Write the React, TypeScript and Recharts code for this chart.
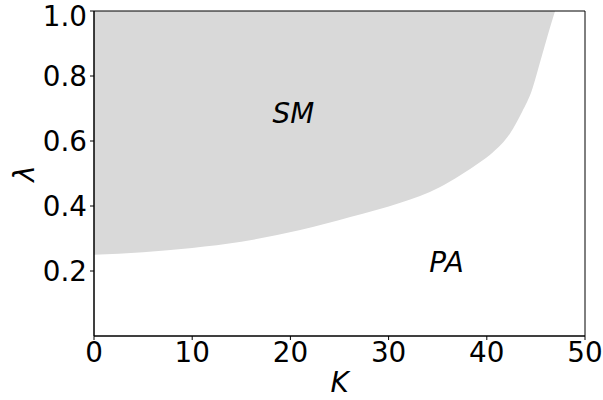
import {
    ComposedChart,
    Area,
    XAxis,
    YAxis,
    ReferenceDot,
    ReferenceArea,
} from "recharts";

// boundary between SM and PA phases
const kValues = [0, 5, 10, 15, 21, 26.1, 31.2, 33.2, 35.2, 37.3, 39.3, 40.6, 42.4, 43.6, 44.6, 45.4, 46.2, 46.95];
const lambdaValues = [0.25, 0.258, 0.271, 0.29, 0.326, 0.366, 0.41, 0.431, 0.458, 0.495, 0.535, 0.565, 0.625, 0.69, 0.757, 0.84, 0.925, 1.0];

const xTicks = [0, 10, 20, 30, 40, 50];
const yTicks = [0.2, 0.4, 0.6, 0.8, 1.0];

const regionLabels = [
    { name: "SM", k: 20.3, lambda: 0.686 },
    { name: "PA", k: 35.9, lambda: 0.225 },
];

const data = kValues.map((k, i) => ({
    k,
    band: [lambdaValues[i], 1],
}));

const font = "DejaVu Sans";
const fs = 27.8;

const RegionText = (props: any) => {
    const { viewBox, value } = props;
    const cx = viewBox.x + (viewBox.width || 0) / 2;
    const cy = viewBox.y + (viewBox.height || 0) / 2;
    return (
        <text
            x={cx}
            y={cy}
            textAnchor="middle"
            dominantBaseline="central"
            fontFamily={font}
            fontStyle="italic"
            fontSize={fs}
            fill="#000"
        >
            {value}
        </text>
    );
};

export default function App() {
    return (
        <div style={{ position: "absolute", left: 0, top: 0, background: "#fff" }}>
            <ComposedChart
                width={603}
                height={400}
                data={data}
                margin={{ top: 11, right: 18, left: 0, bottom: 0 }}
            >
                <XAxis
                    dataKey="k"
                    type="number"
                    domain={[0, 50]}
                    ticks={xTicks}
                    height={64}
                    stroke="#000"
                    tickSize={4}
                    tickMargin={2}
                    tick={{ fontSize: fs, fontFamily: font, fill: "#000" }}
                    label={{
                        value: "K",
                        position: "insideBottom",
                        offset: 8,
                        style: { fontSize: fs, fontFamily: font, fontStyle: "italic", fill: "#000" },
                    }}
                />
                <YAxis
                    type="number"
                    domain={[0, 1]}
                    ticks={yTicks}
                    width={94}
                    stroke="#000"
                    tickSize={4}
                    tickMargin={3}
                    tickFormatter={(v: number) => v.toFixed(1)}
                    tick={{ fontSize: fs, fontFamily: font, fill: "#000" }}
                    label={{
                        value: "λ",
                        angle: -90,
                        position: "insideLeft",
                        offset: 24,
                        style: { fontSize: fs, fontFamily: font, fontStyle: "italic", fill: "#000", textAnchor: "middle" },
                    }}
                />
                <Area
                    dataKey="band"
                    type="monotone"
                    fill="#d9d9d9"
                    fillOpacity={1}
                    stroke="none"
                    isAnimationActive={false}
                />
                <ReferenceArea
                    x1={0}
                    x2={50}
                    y1={0}
                    y2={1}
                    fill="none"
                    stroke="#000"
                    strokeWidth={1}
                />
                {regionLabels.map((r) => (
                    <ReferenceDot
                        key={r.name}
                        x={r.k}
                        y={r.lambda}
                        r={0}
                        stroke="none"
                        label={<RegionText value={r.name} />}
                    />
                ))}
            </ComposedChart>
        </div>
    );
}
